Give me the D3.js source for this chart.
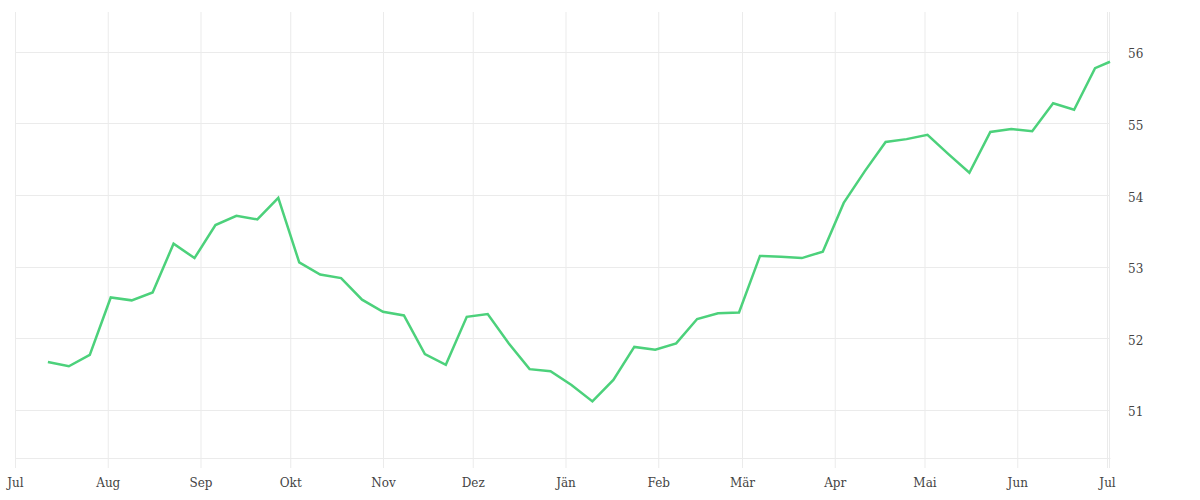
<!DOCTYPE html>
<html>
<head>
<meta charset="utf-8">
<script src="https://cdn.jsdelivr.net/npm/d3@7"></script>
<style>
  html, body { margin: 0; padding: 0; background: #fff; }
  svg { display: block; }
  text { font-family: "DejaVu Serif", serif; font-size: 12px; fill: #444; }
</style>
</head>
<body>
<svg id="chart" width="1200" height="500"></svg>
<script>
const dates = [
  "2022-07-12","2022-07-19","2022-07-26","2022-08-02","2022-08-09","2022-08-16","2022-08-23","2022-08-30",
  "2022-09-06","2022-09-13","2022-09-20","2022-09-27","2022-10-04","2022-10-11","2022-10-18","2022-10-25",
  "2022-11-01","2022-11-08","2022-11-15","2022-11-22","2022-11-29","2022-12-06","2022-12-13","2022-12-20",
  "2022-12-27","2023-01-03","2023-01-10","2023-01-17","2023-01-24","2023-01-31","2023-02-07","2023-02-14",
  "2023-02-21","2023-02-28","2023-03-07","2023-03-14","2023-03-21","2023-03-28","2023-04-04","2023-04-11",
  "2023-04-18","2023-04-25","2023-05-02","2023-05-09","2023-05-16","2023-05-23","2023-05-30","2023-06-06",
  "2023-06-13","2023-06-20","2023-06-27","2023-07-02"
];
const values = [
  51.67, 51.61, 51.77, 52.57, 52.53, 52.64, 53.32, 53.12,
  53.58, 53.71, 53.66, 53.96, 53.06, 52.89, 52.84, 52.54,
  52.37, 52.32, 51.78, 51.63, 52.30, 52.34, 51.93, 51.57,
  51.54, 51.35, 51.12, 51.42, 51.88, 51.84, 51.93, 52.27,
  52.35, 52.36, 53.15, 53.14, 53.12, 53.21, 53.89, 54.33,
  54.74, 54.78, 54.84, 54.57, 54.31, 54.88, 54.92, 54.89,
  55.28, 55.19, 55.77, 55.86
];
const monthTicks = [
  "2022-07-01","2022-08-01","2022-09-01","2022-10-01","2022-11-01","2022-12-01","2023-01-01",
  "2023-02-01","2023-03-01","2023-04-01","2023-05-01","2023-06-01","2023-07-01"
];
const monthLabels = ["Jul","Aug","Sep","Okt","Nov","Dez","Jän","Feb","Mär","Apr","Mai","Jun","Jul"];
const yTicks = [51, 52, 53, 54, 55, 56];

const parse = d3.timeParse("%Y-%m-%d");
const data = dates.map((d, i) => ({ date: parse(d), value: values[i] }));
const tickDates = monthTicks.map(parse);

const mLeft = 15, mRight = 1110, mTop = 12, mBottom = 458;
const svg = d3.select("#chart");

const x = d3.scaleTime()
  .domain([parse("2022-07-01"), parse("2023-07-02")])
  .range([mLeft, mRight]);
const y = d3.scaleLinear()
  .domain([50.33, 56.554])
  .range([mBottom, mTop]);

const gridColor = "#ebebeb";

// horizontal gridlines
svg.append("g")
  .selectAll("line")
  .data(yTicks)
  .join("line")
  .attr("x1", mLeft).attr("x2", mRight)
  .attr("y1", d => Math.round(y(d)) + 0.5).attr("y2", d => Math.round(y(d)) + 0.5)
  .attr("stroke", gridColor).attr("stroke-width", 1);

// x axis with vertical gridlines
const xAxis = d3.axisBottom(x)
  .tickValues(tickDates)
  .tickFormat((d, i) => monthLabels[i])
  .tickSizeInner(-(mBottom - mTop))
  .tickSizeOuter(0)
  .tickPadding(0);
const gx = svg.append("g")
  .attr("transform", `translate(0,${mBottom})`)
  .call(xAxis);
gx.select(".domain").attr("stroke", gridColor);
gx.selectAll(".tick line").attr("stroke", gridColor).attr("y1", 10);
gx.selectAll(".tick text").attr("y", 20).attr("dy", "0.71em").attr("font-family", null).attr("font-size", null);

// right edge line
svg.append("line")
  .attr("x1", mRight - 0.5).attr("x2", mRight - 0.5)
  .attr("y1", mTop).attr("y2", mBottom + 10)
  .attr("stroke", gridColor);

// y axis on right
const yAxis = d3.axisRight(y)
  .tickValues(yTicks)
  .tickFormat(d3.format("d"))
  .tickSize(0)
  .tickPadding(18);
const gy = svg.append("g")
  .attr("transform", `translate(${mRight},0)`)
  .call(yAxis);
gy.select(".domain").remove();
gy.selectAll(".tick text").attr("dy", "0.5em").attr("font-family", null).attr("font-size", null);

// line
const line = d3.line()
  .x(d => x(d.date))
  .y(d => y(d.value));
svg.append("path")
  .datum(data)
  .attr("d", line)
  .attr("fill", "none")
  .attr("stroke", "#4cd17b")
  .attr("stroke-width", 2.5)
  .attr("stroke-linejoin", "miter");
</script>
</body>
</html>
